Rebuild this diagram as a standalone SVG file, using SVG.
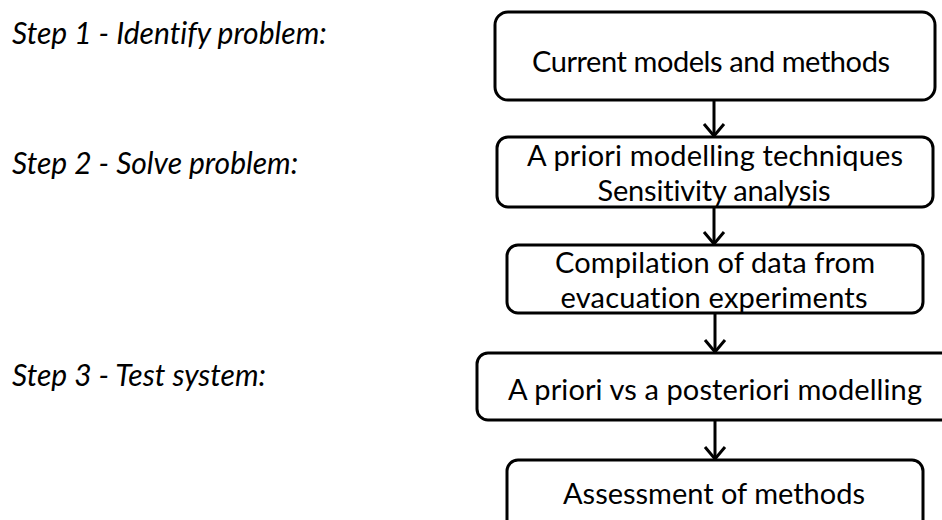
<svg xmlns="http://www.w3.org/2000/svg" width="942" height="520" viewBox="0 0 942 520">
  <style>
    .box { fill: #ffffff; stroke: #000000; stroke-width: 3; }
    .label { font-family: Lato, "Open Sans", sans-serif; font-size: 29px; fill: #000000; text-anchor: middle; font-variant-ligatures: none; }
    .step { font-family: Lato, "Open Sans", sans-serif; font-size: 30px; font-style: italic; fill: #000000; font-variant-ligatures: none; }
    .link { stroke: #000000; stroke-width: 3; fill: none; marker-end: url(#chevron); }
  </style>
  <defs>
    <marker id="chevron" markerUnits="userSpaceOnUse" markerWidth="24" markerHeight="24" refX="12" refY="12" orient="auto" overflow="visible">
      <path d="M0,2 L12,12 L0,22" fill="none" stroke="#000000" stroke-width="3"/>
    </marker>
  </defs>
  <rect width="942" height="520" fill="#ffffff"/>

  <!-- step captions -->
  <g id="steps">
    <text class="step" x="12" y="44">Step 1 - Identify problem:</text>
    <text class="step" x="12" y="174">Step 2 - Solve problem:</text>
    <text class="step" x="12" y="386">Step 3 - Test system:</text>
  </g>

  <!-- connectors -->
  <g id="connectors">
    <line class="link" x1="714" y1="100" x2="714" y2="136"/>
    <line class="link" x1="714" y1="207" x2="714" y2="244"/>
    <line class="link" x1="715" y1="313" x2="715" y2="352"/>
    <line class="link" x1="715" y1="420" x2="715" y2="459"/>
  </g>

  <g id="node-current">
    <rect class="box" x="495" y="12" width="440" height="88" rx="13"/>
    <text class="label" x="711" y="72" textLength="358" lengthAdjust="spacing">Current models and methods</text>
  </g>

  <g id="node-apriori">
    <rect class="box" x="497" y="137" width="436" height="70" rx="11"/>
    <text class="label" x="715" y="166" textLength="376" lengthAdjust="spacing">A priori modelling techniques</text>
    <text class="label" x="714" y="201" textLength="233" lengthAdjust="spacing">Sensitivity analysis</text>
  </g>

  <g id="node-compilation">
    <rect class="box" x="507" y="245" width="416" height="68" rx="11"/>
    <text class="label" x="715" y="273" textLength="320" lengthAdjust="spacing">Compilation of data from</text>
    <text class="label" x="714" y="308" textLength="307" lengthAdjust="spacing">evacuation experiments</text>
  </g>

  <g id="node-comparison">
    <rect class="box" x="477" y="353" width="500" height="67" rx="11"/>
    <text class="label" x="715" y="400" textLength="414" lengthAdjust="spacing">A priori vs a posteriori modelling</text>
  </g>

  <g id="node-assessment">
    <rect class="box" x="507" y="460" width="416" height="90" rx="11"/>
    <text class="label" x="714" y="504" textLength="302" lengthAdjust="spacing">Assessment of methods</text>
  </g>
</svg>
